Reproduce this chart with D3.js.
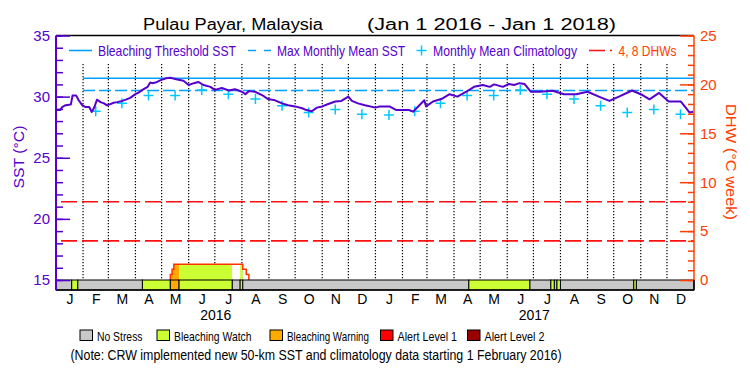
<!DOCTYPE html>
<html>
<head>
<meta charset="utf-8">
<title>Pulau Payar, Malaysia</title>
<script src="https://cdn.jsdelivr.net/npm/d3@7"></script>
<style>
body{margin:0;background:#fff;}
svg{display:block;font-family:"Liberation Sans",Arial,sans-serif;}
.sst{fill:none;stroke:#5500cc;stroke-width:2;stroke-linejoin:round;}
.monthline{stroke:#000;stroke-width:1.2;stroke-dasharray:1.2,1.8;}
.thresh{stroke:#00a0ff;stroke-width:1.6;}
.clim{stroke:#00c8ff;stroke-width:1.5;fill:none;}
.dhwref{stroke:#ff1010;stroke-width:1.6;stroke-dasharray:16,5;}
.dhwline{fill:none;stroke:#ff3300;stroke-width:1.5;}
.stress rect{stroke:#000;stroke-width:1;}
</style>
</head>
<body>
<svg id="chart" width="750" height="375"></svg>
<script>
// ---- values ----
var sstDates = ["2016-01-01","2016-01-06","2016-01-08","2016-01-12","2016-01-18","2016-01-20","2016-01-24","2016-01-27","2016-01-31",
	"2016-02-04","2016-02-08","2016-02-11","2016-02-14","2016-02-17","2016-02-21","2016-02-25","2016-02-28","2016-03-02","2016-03-07",
	"2016-03-11","2016-03-17","2016-03-21","2016-03-26","2016-04-01","2016-04-05","2016-04-09","2016-04-15","2016-04-18","2016-04-20",
	"2016-04-24","2016-04-30","2016-05-06","2016-05-11","2016-05-19","2016-05-26","2016-06-01","2016-06-07","2016-06-12","2016-06-18",
	"2016-06-26","2016-07-01","2016-07-09","2016-07-17","2016-07-24","2016-08-01","2016-08-05","2016-08-09","2016-08-16","2016-08-24",
	"2016-08-31","2016-09-08","2016-09-16","2016-09-23","2016-10-01","2016-10-09","2016-10-14","2016-10-20","2016-10-26","2016-11-01",
	"2016-11-08","2016-11-16","2016-11-23","2016-12-01","2016-12-05","2016-12-12","2016-12-20","2017-01-01","2017-01-06","2017-01-17",
	"2017-01-25","2017-02-09","2017-02-13","2017-02-17","2017-02-26","2017-02-28","2017-03-08","2017-03-19","2017-03-27","2017-04-05",
	"2017-04-15","2017-04-24","2017-05-04","2017-05-12","2017-05-17","2017-05-27","2017-06-03","2017-06-09","2017-06-15","2017-06-21",
	"2017-06-28","2017-07-08","2017-07-23","2017-08-05","2017-08-19","2017-09-01","2017-09-14","2017-09-26","2017-10-07","2017-10-22",
	"2017-11-03","2017-11-11","2017-11-22","2017-12-03","2017-12-17","2017-12-27","2017-12-31"];
var sstValues = [28.9,28.9,29.15,29.3,29.35,30.1,30.1,29.7,29.3,
	29.15,29.15,28.75,29.15,29.75,29.55,29.45,29.3,29.35,29.5,
	29.55,29.65,29.75,29.9,30.2,30.35,30.55,30.8,31.15,31.1,
	31.15,31.35,31.5,31.55,31.4,31.3,30.95,31.1,31.2,30.95,
	30.8,30.55,30.7,30.5,30.6,30.4,30.2,30.45,30.4,30.13,
	29.8,29.7,29.45,29.3,29.2,29.05,28.9,28.8,29.1,29.2,
	29.4,29.6,29.65,30.0,29.65,29.45,29.3,29.1,29.2,29.2,
	28.9,28.9,28.77,29.05,29.7,29.2,29.6,29.85,30.2,30.0,
	30.4,30.8,30.95,30.8,31.0,30.8,31.03,30.95,31.1,31.03,
	30.4,30.4,30.48,30.2,30.2,30.4,30.0,29.65,30.0,30.5,
	30.13,29.78,30.3,29.6,29.6,28.7,28.77];

// monthly mean climatology, Jan..Dec
var climValues = [28.5,28.8,29.45,30.1,30.1,30.55,30.2,29.8,29.25,28.7,28.95,28.55];
var maxMonthlyMean = 30.5;
var bleachingThreshold = 31.5;
var newDataStart = "2016-02-01";

// degree heating weeks
var dhwDates = ["2016-05-11","2016-05-11","2016-05-13","2016-05-15","2016-08-02","2016-08-06","2016-08-09"];
var dhwValues = [0,0.55,1.1,1.6,1.1,0.55,0];
var dhwRefs = [4,8];

// stress level periods (start dates, level index)
var stressStart = ["2016-01-01","2016-01-19","2016-01-26","2016-04-09","2016-05-11","2016-05-21","2016-07-21","2016-07-30","2016-08-02",
	"2017-04-18","2017-06-27","2017-07-21","2017-07-25","2017-07-28","2017-08-01","2017-10-24","2017-10-27"];
var stressLevel = [0,1,0,1,2,1,0,1,0,1,0,1,0,1,0,1,0];
var stressNames = ["No Stress","Bleaching Watch","Bleaching Warning","Alert Level 1","Alert Level 2"];
var stressColors = ["#c8c8c8","#ccff33","#ffaa00","#ff0000","#990000"];

var monthLetters = ["J","F","M","A","M","J","J","A","S","O","N","D"];
var years = [2016,2017];
var sstTicks = [15,20,25,30,35];
var dhwTicks = [0,5,10,15,20,25];

// ---- layout ----
var purple = "#5500cc", orange = "#ff4000";
var L = 56, R = 694, T = 35.5, B0 = 280, B1 = 290;
var parse = d3.utcParse("%Y-%m-%d");
var t0 = parse("2016-01-01"), t1 = parse("2018-01-01");

var svg = d3.select("#chart");

var x = d3.scaleUtc().domain([t0, t1]).range([L, R]);
var yS = d3.scaleLinear().domain([15, 35]).range([B0, T]);
var yD = d3.scaleLinear().domain([0, 25]).range([B0, T]);

function label(g, txt, px, py, len, size, color){
	return g.append("text")
		.attr("x", px).attr("y", py)
		.attr("font-size", size)
		.attr("fill", color)
		.attr("textLength", len)
		.attr("lengthAdjust", "spacingAndGlyphs")
		.text(txt);
}

// title
label(svg, "Pulau Payar, Malaysia", 143, 29.5, 180, 16, "#000");
label(svg, "(Jan 1 2016 - Jan 1 2018)", 367, 29.5, 249, 16, "#000");

// dotted month lines
var monthStarts = d3.utcMonth.range(parse(newDataStart), t1);
svg.append("g").selectAll("line")
	.data(monthStarts)
	.enter().append("line")
	.attr("class", "monthline")
	.attr("x1", function(d){ return x(d); })
	.attr("x2", function(d){ return x(d); })
	.attr("y1", 64).attr("y2", B0);

// DHW area, coloured by stress level
var dhw = dhwDates.map(function(d, i){ return {date: parse(d), v: dhwValues[i]}; });
var stress = stressStart.map(function(d, i){
	return {start: parse(d), end: i < stressStart.length - 1 ? parse(stressStart[i + 1]) : t1, level: stressLevel[i]};
});

var area = d3.area()
	.x(function(d){ return x(d.date); })
	.y0(yD(0))
	.y1(function(d){ return yD(d.v); })
	.curve(d3.curveStepAfter);

var defs = svg.append("defs");
stress.forEach(function(s, i){
	defs.append("clipPath").attr("id", "seg" + i)
		.append("rect")
		.attr("x", x(s.start)).attr("width", x(s.end) - x(s.start))
		.attr("y", T).attr("height", B0 - T);
	svg.append("path")
		.datum(dhw)
		.attr("d", area)
		.attr("clip-path", "url(#seg" + i + ")")
		.attr("fill", s.level === 0 ? "#fff" : stressColors[s.level]);
});

// 4 and 8 DHW reference lines
svg.append("g").selectAll("line")
	.data(dhwRefs)
	.enter().append("line")
	.attr("class", "dhwref")
	.attr("x1", L + 5).attr("x2", R)
	.attr("y1", function(d){ return yD(d); })
	.attr("y2", function(d){ return yD(d); });

// bleaching threshold and max monthly mean
svg.append("line").attr("class", "thresh")
	.attr("x1", x(parse(newDataStart))).attr("x2", R)
	.attr("y1", yS(bleachingThreshold)).attr("y2", yS(bleachingThreshold));
svg.append("line").attr("class", "thresh")
	.attr("stroke-dasharray", "12,4")
	.attr("x1", x(parse(newDataStart))).attr("x2", R)
	.attr("y1", yS(maxMonthlyMean)).attr("y2", yS(maxMonthlyMean));

// climatology crosses, mid month from Feb 2016
var climPts = monthStarts.map(function(m){
	return {date: new Date((m.getTime() + d3.utcMonth.offset(m, 1).getTime()) / 2), v: climValues[m.getUTCMonth()]};
});
svg.append("g").selectAll("path")
	.data(climPts)
	.enter().append("path")
	.attr("class", "clim")
	.attr("transform", function(d){ return "translate(" + x(d.date) + "," + yS(d.v) + ")"; })
	.attr("d", "M-5,0H5M0,-5V5");

// SST line
var sst = sstDates.map(function(d, i){ return {date: parse(d), v: sstValues[i]}; });
svg.append("path")
	.datum(sst)
	.attr("class", "sst")
	.attr("d", d3.line()
		.x(function(d){ return x(d.date); })
		.y(function(d){ return yS(d.v); }));

// DHW outline
svg.append("path")
	.datum(dhw)
	.attr("class", "dhwline")
	.attr("d", d3.line()
		.x(function(d){ return x(d.date); })
		.y(function(d){ return yD(d.v); })
		.curve(d3.curveStepAfter));

// stress bar
svg.append("g").attr("class", "stress").selectAll("rect")
	.data(stress)
	.enter().append("rect")
	.attr("x", function(d){ return x(d.start); })
	.attr("width", function(d){ return x(d.end) - x(d.start); })
	.attr("y", B0).attr("height", B1 - B0)
	.attr("fill", function(d){ return stressColors[d.level]; });

// frame
svg.append("line").attr("x1", L).attr("x2", R).attr("y1", T).attr("y2", T)
	.attr("stroke", "#000").attr("stroke-width", 1.5);
svg.append("line").attr("x1", L).attr("x2", R).attr("y1", B1).attr("y2", B1)
	.attr("stroke", "#000").attr("stroke-width", 1.5);

// left SST axis, ticks pointing inward
function styleAxis(g, color){
	g.select(".domain").remove();
	g.selectAll("line").attr("stroke", color).attr("stroke-width", 1.5);
	g.selectAll("text").attr("fill", color).attr("font-size", 15)
		.attr("font-family", "Liberation Sans, Arial, sans-serif");
}
svg.append("g").attr("transform", "translate(" + L + ",0)")
	.call(d3.axisRight(yS).tickValues(d3.range(15, 36)).tickSize(7).tickFormat(""))
	.call(styleAxis, purple);
svg.append("g").attr("transform", "translate(" + L + ",0)")
	.call(d3.axisRight(yS).tickValues(sstTicks).tickSize(14).tickFormat(""))
	.call(styleAxis, purple);
svg.append("g").attr("transform", "translate(" + L + ",0)")
	.call(d3.axisLeft(yS).tickValues(sstTicks).tickSize(0).tickPadding(6))
	.call(styleAxis, purple);
svg.append("line").attr("x1", L).attr("x2", L).attr("y1", T).attr("y2", B1)
	.attr("stroke", purple).attr("stroke-width", 2);

// right DHW axis
svg.append("g").attr("transform", "translate(" + R + ",0)")
	.call(d3.axisLeft(yD).tickValues(d3.range(0, 26)).tickSize(6).tickFormat(""))
	.call(styleAxis, orange);
svg.append("g").attr("transform", "translate(" + R + ",0)")
	.call(d3.axisLeft(yD).tickValues(dhwTicks).tickSize(14).tickFormat(""))
	.call(styleAxis, orange);
svg.append("g").attr("transform", "translate(" + R + ",0)")
	.call(d3.axisRight(yD).tickValues(dhwTicks).tickSize(0).tickPadding(6))
	.call(styleAxis, orange);
svg.append("line").attr("x1", R).attr("x2", R).attr("y1", T).attr("y2", B0)
	.attr("stroke", orange).attr("stroke-width", 1.5);
svg.append("line").attr("x1", R).attr("x2", R).attr("y1", B0).attr("y2", B1)
	.attr("stroke", "#000").attr("stroke-width", 1.5);

// axis titles
label(svg, "SST (\u00b0C)", 0, 0, 63, 15, purple)
	.attr("text-anchor", "middle")
	.attr("transform", "translate(24,157) rotate(-90)");
label(svg, "DHW (\u00b0C week)", 0, 0, 116, 15, orange)
	.attr("text-anchor", "middle")
	.attr("transform", "translate(726,162) rotate(90)");

// month and year labels
var monthMids = d3.utcMonth.range(t0, t1).map(function(m){
	return new Date((m.getTime() + d3.utcMonth.offset(m, 1).getTime()) / 2);
});
svg.append("g").attr("transform", "translate(0," + B1 + ")")
	.call(d3.axisBottom(x).tickValues(monthMids).tickSize(0).tickPadding(0)
		.tickFormat(function(d){ return monthLetters[d.getUTCMonth()]; }))
	.call(function(g){
		g.select(".domain").remove();
		g.selectAll("text").attr("fill", "#000").attr("font-size", 14)
			.attr("font-family", "Liberation Sans, Arial, sans-serif")
			.attr("dy", null).attr("y", 14);
	});
svg.append("g").selectAll("text")
	.data(years)
	.enter().append("text")
	.attr("x", function(d){ return x(Date.UTC(d, 6, 2)); })
	.attr("y", 320)
	.attr("text-anchor", "middle")
	.attr("font-size", 14)
	.text(function(d){ return d; });

// top legend
var lg = svg.append("g");
lg.append("line").attr("class", "thresh").attr("x1", 69).attr("x2", 92).attr("y1", 50.5).attr("y2", 50.5);
label(lg, "Bleaching Threshold SST", 98, 56, 138, 15, purple);
lg.append("line").attr("class", "thresh").attr("stroke-dasharray", "8,8")
	.attr("x1", 248).attr("x2", 271).attr("y1", 50.5).attr("y2", 50.5);
label(lg, "Max Monthly Mean SST", 277, 56, 128, 15, purple);
lg.append("path").attr("class", "clim").attr("transform", "translate(421.5,50.5)").attr("d", "M-5,0H5M0,-5V5");
label(lg, "Monthly Mean Climatology", 433, 56, 144, 15, purple);
lg.append("line").attr("class", "dhwref").attr("stroke-dasharray", "8,6")
	.attr("x1", 589).attr("x2", 612).attr("y1", 50.5).attr("y2", 50.5);
label(lg, "4, 8 DHWs", 618.5, 56, 58, 15, orange);

// bottom legend
var boxX = [80, 157, 270, 380.5, 467.5];
var textLen = [45.5, 77.5, 82, 59.5, 60];
var bl = svg.append("g");
stressNames.forEach(function(n, i){
	bl.append("rect").attr("x", boxX[i]).attr("y", 330).attr("width", 12.5).attr("height", 10.5)
		.attr("fill", stressColors[i]).attr("stroke", "#000").attr("stroke-width", 1);
	label(bl, n, boxX[i] + 17, 340.5, textLen[i], 13.5, "#000");
});
label(svg, "(Note: CRW implemented new 50-km SST and climatology data starting 1 February 2016)", 70.5, 360, 491, 14, "#000");
</script>
</body>
</html>
